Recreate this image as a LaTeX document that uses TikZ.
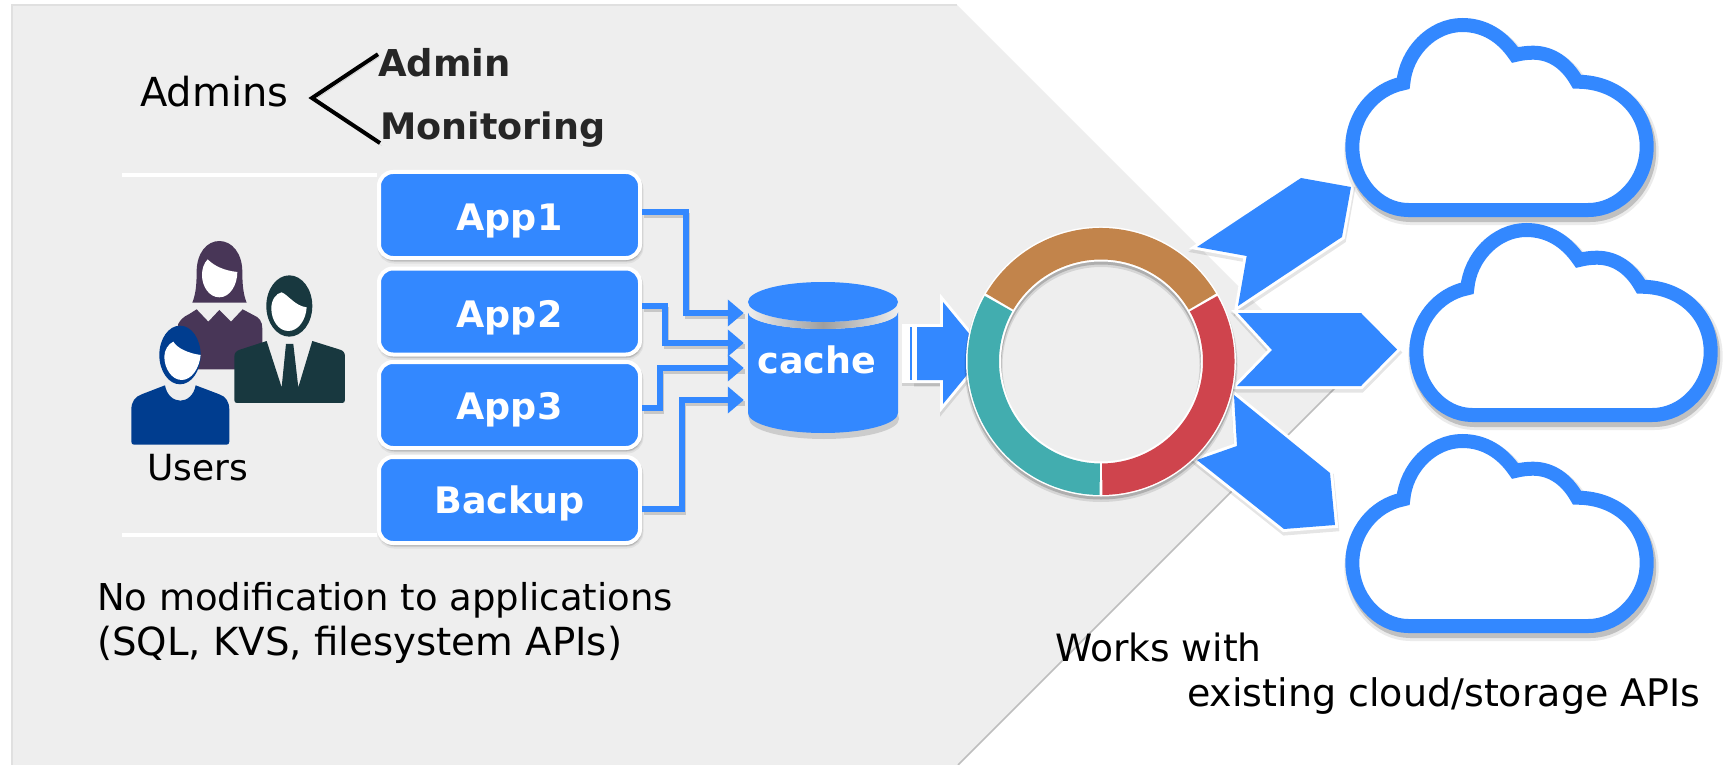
\documentclass[tikz,border=0pt]{standalone}
\usepackage{fontspec}
\setmainfont{DejaVu Sans}
\usetikzlibrary{arrows.meta}
\definecolor{bluemain}{HTML}{3388FF}
\definecolor{panelgray}{HTML}{EEEEEE}
\definecolor{paneledge}{HTML}{E0E0E0}
\definecolor{darktext}{HTML}{262626}
\definecolor{ringbrown}{HTML}{C2844B}
\definecolor{ringteal}{HTML}{42ADAF}
\definecolor{ringred}{HTML}{CF444D}
\definecolor{womancol}{HTML}{483657}
\definecolor{mancol}{HTML}{18383F}
\definecolor{usercol}{HTML}{003D8F}
\tikzset{
  softsh/.style={
    preaction={fill=black,fill opacity=.10,draw=black,draw opacity=.06,line width=5pt,transform canvas={xshift=1pt,yshift=-3pt}},
    preaction={fill=black,fill opacity=.14,draw=black,draw opacity=.08,line width=3.5pt,transform canvas={xshift=1pt,yshift=-2pt}}},
  appbox/.style={draw=white,line width=4pt,fill=bluemain,rounded corners=14pt,minimum width=261pt,minimum height=86pt,inner sep=0pt,
    text=white,font=\fontsize{36.5}{40}\bfseries\selectfont,softsh,text depth=0pt},
  plain/.style={anchor=base west,inner sep=0pt,text=black},
  boldlab/.style={anchor=base west,inner sep=0pt,text=darktext},
  rulewhite/.style={draw=white,line width=3.5pt},
  feedline/.style={draw=bluemain,line width=5.5pt,line join=miter,-{Triangle[length=16pt,width=26pt]},shorten >=4pt,
    preaction={draw=black,draw opacity=.16,fill=none,line width=5.5pt,-,transform canvas={xshift=1.5pt,yshift=-3.5pt}}},
  blockarrow/.style={fill=bluemain,line join=miter,
    preaction={draw=black,draw opacity=.10,line width=7pt,transform canvas={xshift=.5pt,yshift=-3pt}},
    preaction={draw=white,line width=6pt}},
  cloudpic/.pic={
    \path[fill=white,draw=bluemain,line width=14pt,line join=miter,miter limit=3,
      preaction={draw=black,draw opacity=.08,line width=20pt,transform canvas={xshift=2pt,yshift=-5pt}},
      preaction={draw=black,draw opacity=.18,line width=15pt,transform canvas={xshift=2pt,yshift=-4.5pt}}]
      (1408.3,210) -- (1588.3,210)
      .. controls (1620,210) and (1646.7,181) .. (1646.7,146.7)
      .. controls (1646.7,110) and (1618,81.7) .. (1577,81.7)
      .. controls (1567,64) and (1552,52.7) .. (1533,52.7)
      .. controls (1527,52.7) and (1521,53.5) .. (1515,55)
      .. controls (1502,36) and (1484,25) .. (1462.3,25)
      .. controls (1432,25) and (1406,52) .. (1403.3,83.3)
      .. controls (1374,89) and (1352.3,116) .. (1352.3,146.7)
      .. controls (1352.3,181) and (1378,210) .. (1408.3,210) -- cycle;
  }
}
\begin{document}
\begin{tikzpicture}[x=1pt,y=-1pt]
\useasboundingbox (0,0) rectangle (1725,765);
\fill[white] (0,0) rectangle (1725,765);
% panel
\fill[panelgray] (12,5) -- (957,5) -- (1337.5,385.5) -- (958,765) -- (12,765) -- cycle;
\draw[paneledge,line width=2pt] (12,765) -- (12,5) -- (957,5);
\draw[paneledge!85!black,line width=1.5pt] (1337.5,385.5) -- (958,765);

% white rules
\coordinate (ruleA) at (122,175);
\coordinate (ruleB) at (122,535);

% boxes
\node[appbox,text height=31pt] (app1) at (509.5,215) {App1};
\node[appbox,text height=31pt] (app2) at (509.5,311.5) {App2};
\node[appbox,text height=29pt] (app3) at (509.5,405) {App3};
\node[appbox,text height=26pt] (backup) at (509.5,500) {Backup};
\draw[rulewhite] (ruleA) -- (ruleA -| app1.west);
\draw[rulewhite] (ruleB) -- (ruleB -| backup.west);

% admin texts
\node[plain,font=\fontsize{40}{45}\selectfont] (admins) at (140,107) {Admins};
\node[boldlab,font=\fontsize{37}{45}\bfseries\selectfont] (admin) at (378,77) {Admin};
\node[boldlab,font=\fontsize{36.5}{45}\bfseries\selectfont] (monitoring) at (380,140) {Monitoring};
\coordinate (fork) at (312,98);
\draw[black,line width=4pt,line join=miter,
  preaction={draw=black,draw opacity=.18,transform canvas={xshift=1.5pt,yshift=-2.5pt}}]
  ([yshift=9pt]admin.west) -- (fork) -- ([yshift=-13pt]monitoring.west);

% users
\begin{scope}[shift={(100,200)},x=.3333pt,y=-.3333pt]
  % woman
  \fill[womancol] (232,385) .. controls (232,365) and (250,350) .. (268,342) -- (290,328) -- (325,365) -- (358,330) -- (393,365) -- (428,328) -- (460,345)
     .. controls (478,352) and (487,365) .. (487,385) -- (487,508) -- (232,508) -- cycle;
  \fill[womancol] (277,308) .. controls (286,285) and (290,260) .. (290,215) .. controls (290,160) and (320,123) .. (358,123)
     .. controls (396,123) and (427,160) .. (427,215) .. controls (427,260) and (431,285) .. (440,308) -- cycle;
  \fill[white] (323,178) .. controls (345,200) and (375,212) .. (412,216) .. controls (412,255) and (390,292) .. (358,292)
     .. controls (328,292) and (306,260) .. (306,225) .. controls (306,205) and (312,190) .. (323,178) -- cycle;
  % man
  \fill[mancol] (403,470) .. controls (403,458) and (410,452) .. (420,449) -- (500,423) -- (545,562) -- (558,432) -- (580,432) -- (595,562) -- (637,423)
     -- (720,449) .. controls (730,452) and (735,458) .. (735,470) -- (735,600) .. controls (735,606) and (732,609) .. (727,609) -- (411,609) .. controls (406,609) and (403,606) .. (403,600) -- cycle;
  \fill[mancol] (568,318) ellipse [x radius=69,y radius=92];
  \fill[white] (545,277) .. controls (565,285) and (585,318) .. (620,322) .. controls (618,360) and (595,393) .. (565,393)
     .. controls (535,393) and (514,360) .. (514,325) .. controls (514,300) and (528,280) .. (545,277) -- cycle;
  % user
  \fill[usercol] (94,630) .. controls (94,605) and (105,590) .. (125,583) -- (195,556) .. controls (200,585) and (220,602) .. (241,602)
     .. controls (262,602) and (282,585) .. (287,556) -- (358,583) .. controls (378,590) and (388,605) .. (388,630) -- (388,725) .. controls (388,731) and (385,734) .. (380,734)
     -- (102,734) .. controls (97,734) and (94,731) .. (94,725) -- cycle;
  \fill[usercol] (240,465) ellipse [x radius=62,y radius=88];
  \fill[white] (220,425) .. controls (232,445) and (265,460) .. (302,465) .. controls (298,505) and (275,540) .. (245,540)
     .. controls (215,540) and (193,505) .. (193,470) .. controls (193,450) and (205,432) .. (220,425) -- cycle;
\end{scope}
\node[plain,font=\fontsize{36}{45}\selectfont] (users) at (147,480) {Users};

% bottom texts
\node[plain,font=\fontsize{37}{45}\selectfont] (nomodA) at (97,610) {No modification to applications};
\node[plain,font=\fontsize{38.7}{45}\selectfont] (nomodB) at (97,655) {(SQL, KVS, filesystem APIs)};
\node[plain,font=\fontsize{37.6}{45}\selectfont] (works) at (1055,661) {Works with};
\node[plain,font=\fontsize{38}{45}\selectfont] (existing) at (1187,706) {existing cloud/storage APIs};

% cache
\node[minimum width=150pt,minimum height=150pt,inner sep=0pt] (cache) at (823,358) {};
\fill[black,opacity=.14] (748,414) -- (898,414) -- (899,419) arc[start angle=0,end angle=180,x radius=75,y radius=20] -- cycle;
\fill[bluemain] (748,312) arc[start angle=180,end angle=0,x radius=75,y radius=17] -- (898,413) arc[start angle=0,end angle=180,x radius=75,y radius=20] -- cycle;
\shade[left color=panelgray,right color=panelgray,middle color=black!38] (748,302) arc[start angle=180,end angle=0,x radius=75,y radius=20] -- (898,312) arc[start angle=0,end angle=180,x radius=75,y radius=17] -- cycle;
\fill[bluemain] (823,302) ellipse [x radius=75,y radius=20];
\node[inner sep=0pt,anchor=base,text=white,font=\fontsize{36.5}{40}\bfseries\selectfont] (cachelab) at (817,373) {cache};

% feed connectors
\draw[feedline] ([yshift=3pt]app1.east) -- ++(44,0) |- ([yshift=45pt]cache.west);
\draw[feedline] ([yshift=5.5pt]app2.east) -- ++(23,0) |- ([yshift=15pt]cache.west);
\draw[feedline] ([yshift=-3pt]app3.east) -- ++(18,0) |- ([yshift=-10pt]cache.west);
\draw[feedline] ([yshift=-9pt]backup.east) -- ++(40,0) |- ([yshift=-42pt]cache.west);

% arrows to clouds
\path[blockarrow] (1197,247) -- (1301,178) -- (1351,187) -- (1342,237) -- (1238,306) -- (1246.7,256) -- cycle;
\path[blockarrow] (1238,313) -- (1361,313) -- (1397,349.5) -- (1361,386) -- (1237,386) -- (1272,350) -- cycle;
\path[blockarrow] (1234,395) -- (1330,473) -- (1335,525) -- (1284,529) -- (1197,460) -- (1237,446) -- cycle;

% clouds
\pic at (0,0) {cloudpic};
\pic at (64,205) {cloudpic};
\pic at (0,416) {cloudpic};

% arrow cache to ring
\fill[black,opacity=.12] (902,383) rectangle (945,386);
\fill[white] (902,324) rectangle (917,383);
\fill[bluemain] (909.5,327) rectangle (912,380);
\path[blockarrow,preaction={}] (917,327) -- (943,327) -- (943,302) -- (985,353) -- (943,404) -- (943,380) -- (917,380) -- cycle;

% ring
\node[circle,minimum size=270pt,inner sep=0pt] (ring) at (1101,361.5) {};
\draw[black,opacity=.10] [line width=38pt] ([yshift=-4pt]ring.center) circle [radius=117.5];
\draw[black,opacity=.18] [line width=36pt] ([yshift=-2.5pt]ring.center) circle [radius=117.5];
\draw[white,line width=35pt] (ring.center) circle [radius=117.5];
\fill[ringbrown] (ring.center) ++(-30.6:133.5) arc[start angle=-30.6,end angle=-149.4,radius=133.5] -- ++(-149.4:-31.5) arc[start angle=-149.4,end angle=-30.6,radius=102] -- cycle;
\fill[ringred] (ring.center) ++(-29.4:133.5) arc[start angle=-29.4,end angle=89.4,radius=133.5] -- ++(89.4:-31.5) arc[start angle=89.4,end angle=-29.4,radius=102] -- cycle;
\fill[ringteal] (ring.center) ++(90.6:133.5) arc[start angle=90.6,end angle=209.4,radius=133.5] -- ++(209.4:-31.5) arc[start angle=209.4,end angle=90.6,radius=102] -- cycle;
\end{tikzpicture}
\end{document}
